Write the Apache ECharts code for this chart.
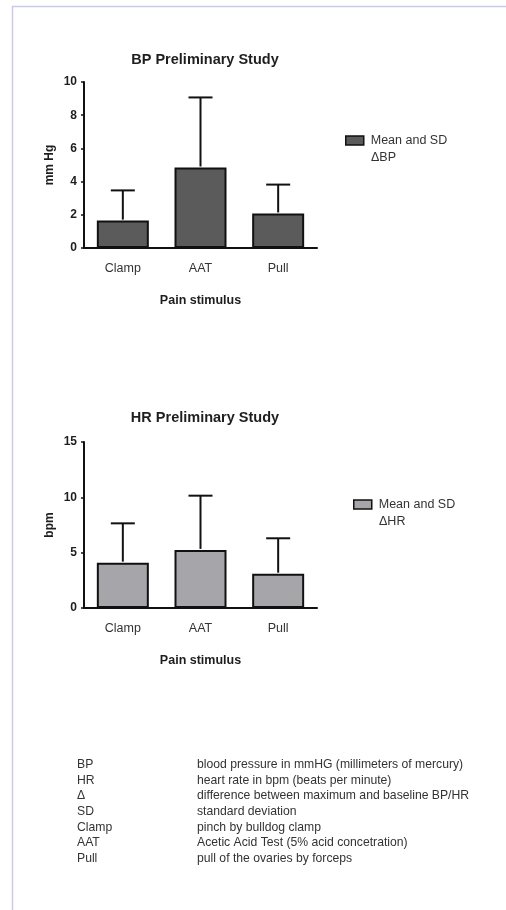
<!DOCTYPE html>
<html>
<head>
<meta charset="utf-8">
<script src="https://cdn.jsdelivr.net/npm/echarts@6/dist/echarts.min.js"></script>
<style>
html,body{margin:0;padding:0;background:#fff;}
#main{width:506px;height:910px;}
</style>
</head>
<body>
<div id="main"></div>
<script>
// data
var categories = ['Clamp', 'AAT', 'Pull'];
var bpMean = [1.65, 4.85, 2.08];
var bpSd = [1.82, 4.22, 1.74];
var hrMean = [4.1, 5.25, 3.1];
var hrSd = [3.55, 4.9, 3.2];
var bpTicks = [0, 10, 2];   // min, max, interval
var hrTicks = [0, 15, 5];
var abbrevs = ['BP', 'HR', '\u0394', 'SD', 'Clamp', 'AAT', 'Pull'];
var meanings = [
	'blood pressure in mmHG (millimeters of mercury)',
	'heart rate in bpm (beats per minute)',
	'difference between maximum and baseline BP/HR',
	'standard deviation',
	'pinch by bulldog clamp',
	'Acetic Acid Test (5% acid concetration)',
	'pull of the ovaries by forceps'
];

var font = 'Liberation Sans, Arial, sans-serif';
var ink = '#1e1e1e';

function errData(mean, sd){
	var out = [];
	for (var i = 0; i < mean.length; i++) {
		out.push([i, mean[i], mean[i] + sd[i]]);
	}
	return out;
}

// error bar: stem from mean to mean+sd, plus cap
function renderErr(params, api){
	var p0 = api.coord([api.value(0), api.value(1)]);
	var p1 = api.coord([api.value(0), api.value(2)]);
	var half = 12;
	var st = {stroke: '#111', lineWidth: 2};
	return {
		type: 'group',
		children: [
			{type: 'line', shape: {x1: p0[0], y1: p0[1] - 1, x2: p1[0], y2: p1[1]}, style: st},
			{type: 'line', shape: {x1: p1[0] - half, y1: p1[1], x2: p1[0] + half, y2: p1[1]}, style: st}
		]
	};
}

function xAxis(idx){
	return {
		type: 'category', gridIndex: idx, data: categories,
		name: 'Pain stimulus', nameLocation: 'middle', nameGap: 46,
		nameTextStyle: {fontFamily: font, fontSize: 12.5, fontWeight: 'bold', color: ink},
		axisLine: {lineStyle: {color: '#111', width: 2}},
		axisTick: {alignWithLabel: true, length: 5, lineStyle: {color: '#111', width: 1.5}},
		axisLabel: {margin: 14, fontFamily: font, fontSize: 12.5, color: '#333'},
		splitLine: {show: false}
	};
}

function yAxis(idx, ticks, name, gap){
	return {
		type: 'value', gridIndex: idx, min: ticks[0], max: ticks[1], interval: ticks[2],
		name: name, nameLocation: 'middle', nameGap: gap, nameRotate: 90,
		nameTextStyle: {fontFamily: font, fontSize: 12, fontWeight: 'bold', color: ink},
		axisLine: {show: true, lineStyle: {color: '#111', width: 2}},
		axisTick: {show: true, length: 3, lineStyle: {color: '#111', width: 1.5}},
		axisLabel: {margin: 7, fontFamily: font, fontSize: 12, fontWeight: 'bold', color: ink},
		splitLine: {show: false}
	};
}

var graphics = [
	{type: 'line', shape: {x1: 12, y1: 6.5, x2: 506, y2: 6.5}, style: {stroke: '#c9c9ea', lineWidth: 1.5}},
	{type: 'line', shape: {x1: 12.5, y1: 6, x2: 12.5, y2: 910}, style: {stroke: '#c9c9ea', lineWidth: 1.5}},
	{type: 'text', left: 371, top: 151, style: {text: '\u0394BP', font: '12.5px ' + font, fill: '#333'}},
	{type: 'text', left: 379, top: 515, style: {text: '\u0394HR', font: '12.5px ' + font, fill: '#333'}}
];
for (var i = 0; i < abbrevs.length; i++) {
	graphics.push({type: 'text', left: 77, top: 759 + i * 15.55, style: {text: abbrevs[i], font: '12.2px ' + font, fill: '#333'}});
	graphics.push({type: 'text', left: 197, top: 759 + i * 15.55, style: {text: meanings[i], font: '12.2px ' + font, fill: '#333'}});
}

var myChart = echarts.init(document.getElementById('main'));
var option = {
	animation: false,
	backgroundColor: '#fff',
	title: [
		{text: 'BP Preliminary Study', left: 200, top: 47, textAlign: 'center',
			textStyle: {fontFamily: font, fontSize: 14.5, fontWeight: 'bold', color: ink}},
		{text: 'HR Preliminary Study', left: 200, top: 405, textAlign: 'center',
			textStyle: {fontFamily: font, fontSize: 14.5, fontWeight: 'bold', color: ink}}
	],
	legend: [
		{data: ['\u0394BP'], left: 345, top: 134, padding: 0, icon: 'rect', itemWidth: 18, itemHeight: 9, itemGap: 8,
			formatter: function(){ return 'Mean and SD'; },
			itemStyle: {borderColor: '#111', borderWidth: 1.5},
			textStyle: {fontFamily: font, fontSize: 12.5, color: '#333', padding: [0, 0, 0, 2]}},
		{data: ['\u0394HR'], left: 353, top: 498, padding: 0, icon: 'rect', itemWidth: 18, itemHeight: 9, itemGap: 8,
			formatter: function(){ return 'Mean and SD'; },
			itemStyle: {borderColor: '#111', borderWidth: 1.5},
			textStyle: {fontFamily: font, fontSize: 12.5, color: '#333', padding: [0, 0, 0, 2]}}
	],
	grid: [
		{left: 84, top: 82, width: 233, height: 166},
		{left: 84, top: 442, width: 233, height: 166}
	],
	xAxis: [xAxis(0), xAxis(1)],
	yAxis: [yAxis(0, bpTicks, 'mm Hg', 28), yAxis(1, hrTicks, 'bpm', 28)],
	graphic: graphics,
	series: [
		{name: '\u0394BP', type: 'bar', xAxisIndex: 0, yAxisIndex: 0, data: bpMean, barWidth: 52,
			itemStyle: {color: '#5b5b5b', borderColor: '#111', borderWidth: 2}},
		{name: 'bpErr', type: 'custom', xAxisIndex: 0, yAxisIndex: 0, data: errData(bpMean, bpSd),
			renderItem: renderErr, z: 5},
		{name: '\u0394HR', type: 'bar', xAxisIndex: 1, yAxisIndex: 1, data: hrMean, barWidth: 52,
			itemStyle: {color: '#a6a6aa', borderColor: '#111', borderWidth: 2}},
		{name: 'hrErr', type: 'custom', xAxisIndex: 1, yAxisIndex: 1, data: errData(hrMean, hrSd),
			renderItem: renderErr, z: 5}
	]
};
myChart.setOption(option);
</script>
</body>
</html>
